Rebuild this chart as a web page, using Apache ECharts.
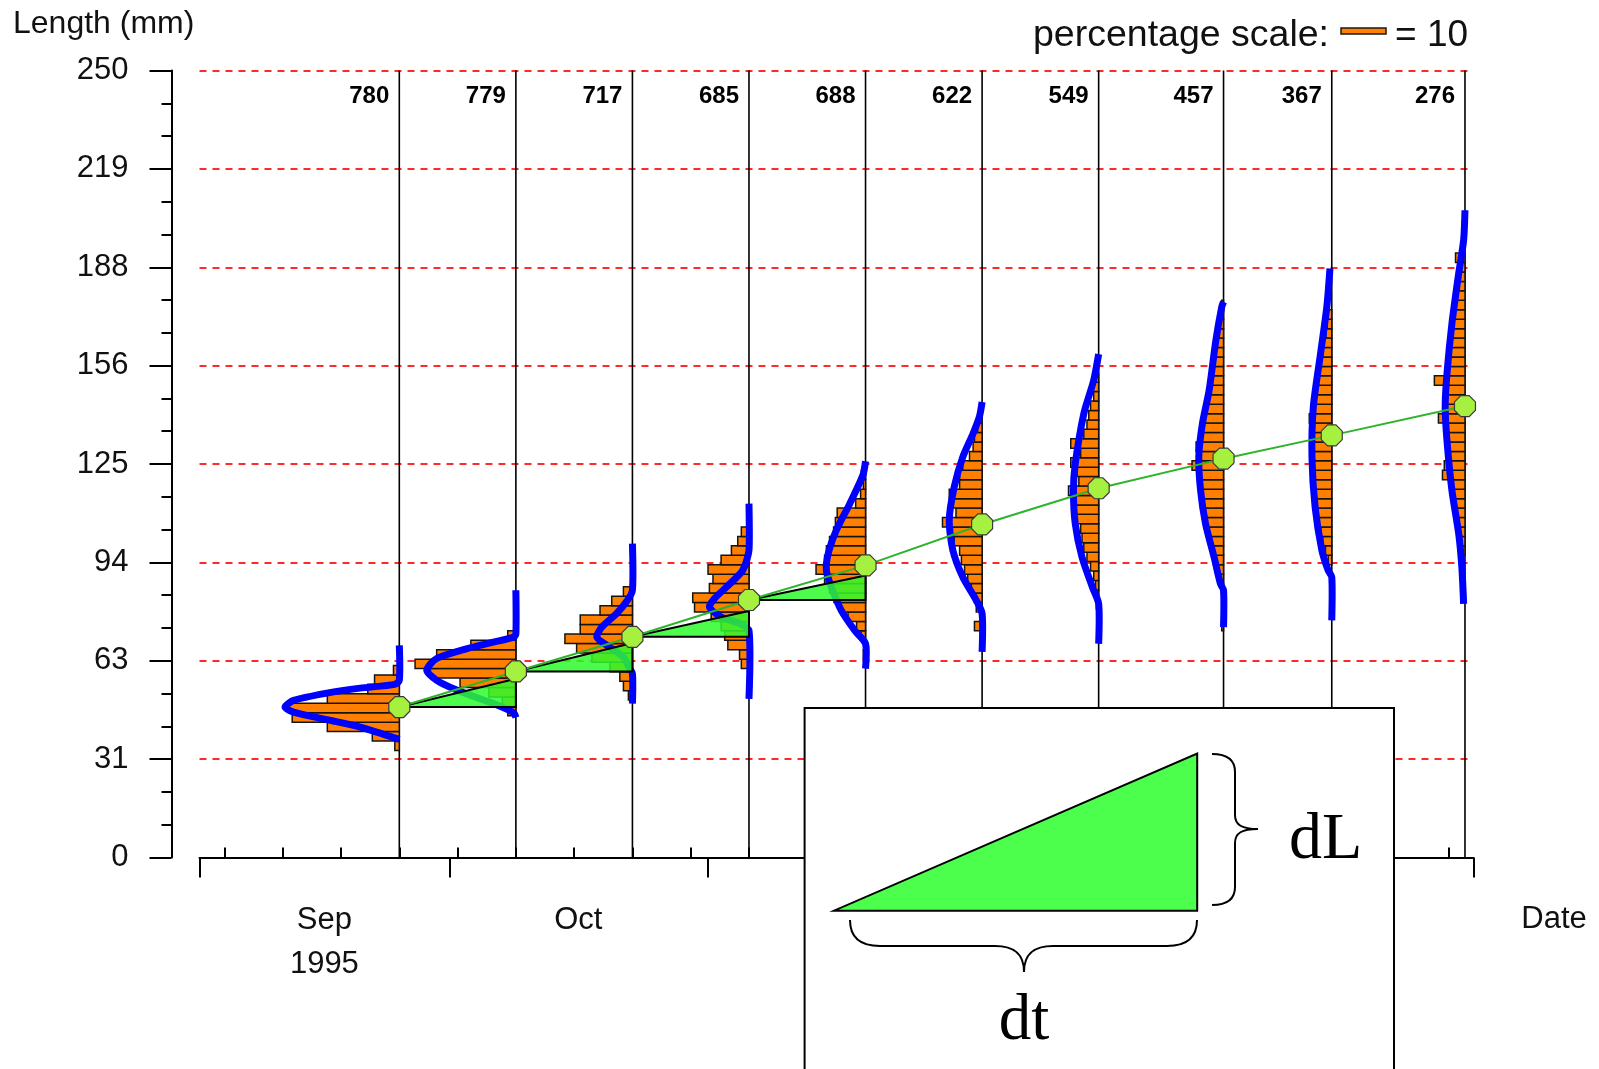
<!DOCTYPE html>
<html>
<head>
<meta charset="utf-8">
<script src="https://cdn.jsdelivr.net/npm/echarts@6/dist/echarts.min.js"></script>
<style>
  html, body { margin: 0; padding: 0; background: #ffffff; }
  #chart { width: 1599px; height: 1069px; }
</style>
</head>
<body>
<div id="chart"></div>
<script>
// ---- Length-frequency samples ----
const sampleDates = ['1995-09-25', '1995-10-09', '1995-10-23', '1995-11-06', '1995-11-20',
                     '1995-12-04', '1995-12-18', '1996-01-02', '1996-01-15', '1996-01-31'];
const sampleCounts = [780, 779, 717, 685, 688, 622, 549, 457, 367, 276];
const meanLengths = [47.8, 59.1, 70.1, 81.8, 92.8, 105.8, 117.3, 126.7, 134.1, 143.4];

// growth increment (mm) over each of the first four intervals
const growthDL = [9.0, 9.0, 8.2, 7.8];

// histogram: bin width (mm), lower edge of the first bin, percentage per bin (ascending length)
const BIN_WIDTH = 3;
const histStart = [34, 45, 50, 60, 63, 72, 79, 72, 93, 96];
const histPct = [
  [1.0, 6.0, 16.0, 23.8, 24.6, 16.0, 7.0, 5.5, 1.3],
  [1.8, 3.0, 6.0, 12.4, 19.0, 22.4, 17.6, 10.0, 1.8],
  [0.9, 2.0, 2.8, 5.0, 9.0, 12.4, 15.0, 11.6, 11.6, 7.2, 4.6, 2.0],
  [1.7, 2.1, 4.7, 5.4, 6.2, 8.4, 12.1, 12.5, 8.8, 8.0, 9.1, 6.2, 3.9, 2.5, 1.7],
  [0.5, 0, 1.0, 2.0, 3.9, 5.8, 7.0, 8.0, 9.1, 11.0, 9.1, 8.7, 8.0, 7.1, 6.7, 6.3, 2.2, 1.1, 0.5, 0.9],
  [1.7, 0, 1.3, 1.7, 2.4, 3.2, 3.9, 4.6, 5.0, 6.2, 6.6, 8.8, 5.8, 6.9, 7.3, 5.0, 5.0, 4.3, 2.8, 2.0, 1.7, 1.0],
  [0.5, 0.7, 0.7, 1.1, 1.8, 2.6, 3.3, 3.7, 4.0, 5.2, 5.6, 5.6, 6.7, 4.4, 4.8, 6.2, 4.0, 6.2, 3.3, 2.6, 2.2, 1.8, 1.1, 1.5, 0.6],
  [0.4, 0, 0, 0.3, 0.5, 0.8, 1.2, 1.8, 2.3, 2.8, 3.3, 3.9, 4.2, 4.5, 4.9, 5.0, 5.2, 7.0, 5.3, 6.1, 4.8, 5.0, 4.4, 4.2, 3.8, 3.2, 2.9, 2.6, 2.3, 2.0, 1.6, 1.2, 0.9, 0.6, 0.4],
  [0.8, 1.4, 2.0, 2.4, 2.8, 3.2, 3.6, 3.8, 4.0, 4.2, 4.5, 4.3, 4.6, 4.4, 4.2, 5.0, 4.0, 3.6, 3.3, 3.0, 2.6, 2.4, 2.0, 1.7, 1.3, 1.0, 0.8],
  [0.6, 0.9, 1.2, 1.5, 1.8, 2.2, 2.5, 2.9, 5.0, 4.6, 3.4, 3.7, 3.9, 4.0, 5.9, 4.3, 4.2, 3.8, 6.8, 3.7, 3.6, 3.2, 3.0, 2.9, 2.6, 2.4, 2.0, 1.8, 1.6, 1.2, 0.8, 2.1]
];

// fitted distribution outline per sample: [length (mm), percentage]
const fitCurves = [
  [[37.5, 0], [41.4, 8.7], [43.8, 16.1], [46.2, 23.5], [47.8, 25.4], [49.9, 23.5], [52.2, 16.1], [53.8, 8.7], [55.0, 1.0], [56.3, 0], [67.4, 0]],
  [[44.5, 0], [46.0, 0.5], [48.9, 5.0], [52.0, 11.0], [55.7, 16.9], [59.4, 19.8], [63.2, 17.6], [66.3, 11.0], [68.4, 5.0], [70.0, 0.5], [71.0, 0], [84.9, 0]],
  [[48.9, 0], [58.4, 0], [60.5, 0.8], [63.7, 2.0], [67.4, 5.7], [70.0, 7.9], [73.2, 6.8], [77.5, 3.5], [81.7, 1.1], [84.9, 0], [99.7, 0]],
  [[50.4, 0], [72.1, 0], [74.3, 2.0], [76.4, 6.2], [79.6, 8.8], [82.5, 7.5], [85.9, 5.0], [91.2, 1.4], [97.6, 0], [112.4, 0]],
  [[60.0, 0], [67.9, 0], [72.1, 2.4], [78.5, 5.4], [85.9, 7.6], [91.2, 8.7], [96.5, 8.3], [103.9, 6.5], [112.4, 3.5], [121.4, 0.6], [125.9, 0]],
  [[65.3, 0], [77.5, 0], [81.7, 1.3], [89.1, 4.3], [97.6, 6.5], [107.1, 7.3], [117.7, 6.2], [127.2, 4.3], [134.7, 2.0], [140.0, 0.6], [144.7, 0]],
  [[67.9, 0], [80.6, 0], [85.9, 1.4], [95.4, 3.7], [106.0, 5.2], [116.6, 5.6], [125.1, 5.2], [141.0, 3.3], [151.6, 1.1], [159.9, 0]],
  [[73.2, 0], [84.9, 0], [87.0, 0.7], [95.4, 2.1], [106.0, 4.0], [116.6, 5.1], [127.2, 5.5], [137.8, 4.7], [148.4, 3.2], [164.3, 1.7], [174.9, 0.4], [176.5, 0]],
  [[75.3, 0], [89.1, 0], [91.2, 0.8], [97.6, 2.2], [111.3, 3.7], [127.2, 4.4], [143.1, 4.1], [159.0, 2.6], [174.9, 1.1], [187.1, 0.4]],
  [[80.6, 0.3], [92.3, 0.7], [102.9, 1.4], [116.6, 2.9], [132.5, 4.0], [143.1, 4.4], [153.7, 4.0], [169.6, 2.9], [185.5, 1.4], [196.1, 0.3], [205.6, 0]]
];

// axis ticks and labels
const yTickLabels = ['0', '31', '63', '94', '125', '156', '188', '219', '250'];
const monthStarts = ['1995-09-01', '1995-10-01', '1995-11-01', '1995-12-01', '1996-01-01', '1996-02-01'];
const monthLabels = ['Sep\n1995', 'Oct', 'Nov', 'Dec', 'Jan\n1996'];
const firstMonday = '1995-09-04';

// ---- helpers / scales ----
// the date axis counts days from the first month start
const PX_PER_PCT = 4.5;           // horizontal length of 1 % in the frequency bars
const DAY = 86400000;
const toTime = s => { const [y, m, d] = s.split('-').map(Number); return Date.UTC(y, m - 1, d); };
const ORIGIN = toTime(monthStarts[0]);
const toDay = s => Math.round((toTime(s) - ORIGIN) / DAY);

const sampleDays = sampleDates.map(toDay);
const monthStartDays = monthStarts.map(toDay);
const monthMidDays = monthLabels.map((_, i) => (monthStartDays[i] + monthStartDays[i + 1]) / 2);
const lastDay = monthStartDays[monthStartDays.length - 1];
const weekTicks = [];
for (let d = toDay(firstMonday); d < lastDay; d += 7) weekTicks.push(d);

const histData = [];
histPct.forEach((arr, s) => arr.forEach((p, k) => {
  if (p > 0) histData.push([sampleDays[s], histStart[s] + k * BIN_WIDTH, p]);
}));
const sampleData = sampleDays.map((d, i) => [d, meanLengths[i], i]);
const triData = growthDL.map((dl, i) => [sampleDays[i], meanLengths[i], sampleDays[i + 1], dl]);
const meanData = sampleDays.map((d, i) => [d, meanLengths[i]]);

const FONT = '"Liberation Sans", Arial, sans-serif';
const SERIF = '"Liberation Serif", "Times New Roman", serif';
const OCTAGON = 'path://M30,0 L70,0 L100,30 L100,70 L70,100 L30,100 L0,70 L0,30 Z';

// curly-brace outline built from straight and cubic pieces: [x1,y1,x2,y2] or [x1,y1,c1x,c1y,c2x,c2y,x2,y2]
function braceElements(pieces) {
  return pieces.map(p => p.length === 4
    ? { type: 'line', z: 101, shape: { x1: p[0], y1: p[1], x2: p[2], y2: p[3] },
        style: { stroke: '#000', lineWidth: 2 } }
    : { type: 'bezierCurve', z: 101,
        shape: { x1: p[0], y1: p[1], cpx1: p[2], cpy1: p[3], cpx2: p[4], cpy2: p[5], x2: p[6], y2: p[7] },
        style: { stroke: '#000', lineWidth: 2, fill: null } });
}
const rightBrace = [
  [1212, 754, 1228, 754, 1235, 760, 1235, 772],
  [1235, 772, 1235, 815],
  [1235, 815, 1235, 825, 1242, 829, 1258, 829],
  [1258, 829, 1242, 829, 1235, 833, 1235, 843],
  [1235, 843, 1235, 887],
  [1235, 887, 1235, 899, 1228, 905, 1212, 905]
];
const bottomBrace = [
  [850, 920, 850, 938, 860, 946, 880, 946],
  [880, 946, 995, 946],
  [995, 946, 1012, 946, 1024, 952, 1024, 972],
  [1024, 972, 1024, 952, 1036, 946, 1053, 946],
  [1053, 946, 1167, 946],
  [1167, 946, 1187, 946, 1197, 938, 1197, 920]
];

const chart = echarts.init(document.getElementById('chart'), null, { renderer: 'canvas' });

chart.setOption({
  animation: false,
  backgroundColor: '#ffffff',
  title: {
    text: 'Length (mm)', left: 8, top: 3,
    textStyle: { fontFamily: FONT, fontSize: 32, fontWeight: 'normal', color: '#111' }
  },
  grid: { left: 199.5, right: 125.7, top: 70.5, bottom: 211.5 },
  xAxis: [
    {
      type: 'value', min: 0, max: lastDay, position: 'bottom',
      axisLine: { show: true, onZero: false, lineStyle: { color: '#000', width: 2 } },
      axisTick: { show: true, inside: false, length: 20, customValues: monthStartDays,
                  lineStyle: { color: '#000', width: 2 } },
      axisLabel: {
        show: true, customValues: monthMidDays, margin: 41,
        fontFamily: FONT, fontSize: 31, lineHeight: 44, color: '#111',
        formatter: v => {
          let best = 0;
          monthMidDays.forEach((m, i) => { if (Math.abs(m - v) < Math.abs(monthMidDays[best] - v)) best = i; });
          return monthLabels[best];
        }
      },
      splitLine: { show: false },
      name: 'Date', nameLocation: 'end', nameGap: 48,
      nameTextStyle: { fontFamily: FONT, fontSize: 31, color: '#111', align: 'left',
                       verticalAlign: 'top', padding: [46, 0, 0, 0] }
    },
    {
      type: 'value', min: 0, max: lastDay, position: 'bottom', gridIndex: 0,
      axisLine: { show: false, onZero: false },
      axisTick: { show: true, inside: true, length: 10, customValues: weekTicks,
                  lineStyle: { color: '#000', width: 2 } },
      axisLabel: { show: false },
      splitLine: { show: false }
    }
  ],
  yAxis: {
    type: 'value', min: 0, max: 250, interval: 31.25, position: 'left', offset: 28,
    axisLine: { show: true, onZero: false, lineStyle: { color: '#000', width: 2 } },
    axisTick: { show: true, length: 22, lineStyle: { color: '#000', width: 2 } },
    minorTick: { show: true, splitNumber: 3, length: 10, lineStyle: { color: '#000', width: 2 } },
    axisLabel: { margin: 43, fontFamily: FONT, fontSize: 31, color: '#111',
                 formatter: v => yTickLabels[Math.round(v / 31.25)] },
    splitLine: { show: true, showMinLine: false,
                 lineStyle: { color: '#ff2a2a', width: 2, type: [7, 6] } }
  },
  series: [
    {
      // sampling-date verticals
      type: 'custom', name: 'samples', z: 3, silent: true,
      data: sampleData, encode: { x: 0, y: 1 },
      renderItem: (params, api) => {
        const d = api.value(0);
        const a = api.coord([d, 0]), b = api.coord([d, 250]);
        return { type: 'line', shape: { x1: a[0], y1: a[1], x2: b[0], y2: b[1] },
                 style: { stroke: '#000', lineWidth: 1.6 } };
      }
    },
    {
      // length-frequency histograms
      type: 'custom', name: 'frequency', z: 4, silent: true,
      data: histData, encode: { x: 0, y: 1 },
      renderItem: (params, api) => {
        const d = api.value(0), lo = api.value(1), pct = api.value(2);
        const p0 = api.coord([d, lo]), p1 = api.coord([d, lo + BIN_WIDTH]);
        const w = pct * PX_PER_PCT;
        return { type: 'rect',
                 shape: { x: p0[0] - w, y: p1[1], width: w, height: p0[1] - p1[1] },
                 style: { fill: '#ff8000', stroke: '#141414', lineWidth: 1.5 } };
      }
    },
    {
      // fitted distributions
      type: 'custom', name: 'fit', z: 5, silent: true,
      data: sampleData, encode: { x: 0, y: 1 },
      renderItem: (params, api) => {
        const d = api.value(0), idx = api.value(2);
        const pts = fitCurves[idx].map(([L, p]) => {
          const c = api.coord([d, L]);
          return [c[0] - p * PX_PER_PCT, c[1]];
        });
        return { type: 'polyline', shape: { points: pts, smooth: 0.25 },
                 style: { stroke: '#0000ff', lineWidth: 7, fill: null, lineJoin: 'round' } };
      }
    },
    {
      // growth triangles dL / dt
      type: 'custom', name: 'growth', z: 6, silent: true,
      data: triData, encode: { x: 0, y: 1 },
      renderItem: (params, api) => {
        const d0 = api.value(0), m = api.value(1), d1 = api.value(2), dl = api.value(3);
        const a = api.coord([d0, m]), b = api.coord([d1, m]), c = api.coord([d1, m + dl]);
        return { type: 'polygon', shape: { points: [a, b, c] },
                 style: { fill: 'rgba(45,250,45,0.85)', stroke: '#000', lineWidth: 2 } };
      }
    },
    {
      // mean length trajectory
      type: 'line', name: 'mean', z: 7, silent: true,
      data: meanData,
      symbol: OCTAGON, symbolSize: 21, showAllSymbol: true,
      lineStyle: { color: '#2db42d', width: 2 },
      itemStyle: { color: '#a6f03f', borderColor: '#3a3a3a', borderWidth: 1.2 }
    },
    {
      // sample sizes
      type: 'custom', name: 'n', z: 8, silent: true,
      data: sampleDays.map((d, i) => [d, 250, sampleCounts[i]]), encode: { x: 0, y: 1 },
      renderItem: (params, api) => {
        const c = api.coord([api.value(0), 250]);
        return { type: 'text', x: c[0] - 10, y: c[1] + 26,
                 style: { text: String(api.value(2)), align: 'right', verticalAlign: 'middle',
                          font: 'bold 24px ' + FONT, fill: '#000' } };
      }
    }
  ],
  graphic: [
    // percentage scale key
    { type: 'text', z: 50, x: 1329, y: 35.5,
      style: { text: 'percentage scale:', align: 'right', verticalAlign: 'middle',
               font: '37.5px ' + FONT, fill: '#111' } },
    { type: 'rect', z: 50, shape: { x: 1341, y: 28, width: 10 * PX_PER_PCT, height: 6 },
      style: { fill: '#ff8000', stroke: '#1a1a1a', lineWidth: 1.5 } },
    { type: 'text', z: 50, x: 1395, y: 35.5,
      style: { text: '= 10', align: 'left', verticalAlign: 'middle', font: '37px ' + FONT, fill: '#111' } },

    // inset explaining the growth triangle
    { type: 'rect', z: 100, shape: { x: 804.6, y: 708, width: 589.4, height: 420 },
      style: { fill: '#ffffff', stroke: '#000', lineWidth: 2 } },
    { type: 'polygon', z: 101, shape: { points: [[834, 910.7], [1197.2, 910.7], [1197.2, 753.6]] },
      style: { fill: '#4cff4c', stroke: '#000', lineWidth: 2 } },
    ...braceElements(rightBrace),
    ...braceElements(bottomBrace),
    { type: 'text', z: 101, x: 1289, y: 841,
      style: { text: 'dL', align: 'left', verticalAlign: 'middle', font: '66px ' + SERIF, fill: '#000' } },
    { type: 'text', z: 101, x: 1024, y: 1022,
      style: { text: 'dt', align: 'center', verticalAlign: 'middle', font: '65px ' + SERIF, fill: '#000' } }
  ]
});
</script>
</body>
</html>
